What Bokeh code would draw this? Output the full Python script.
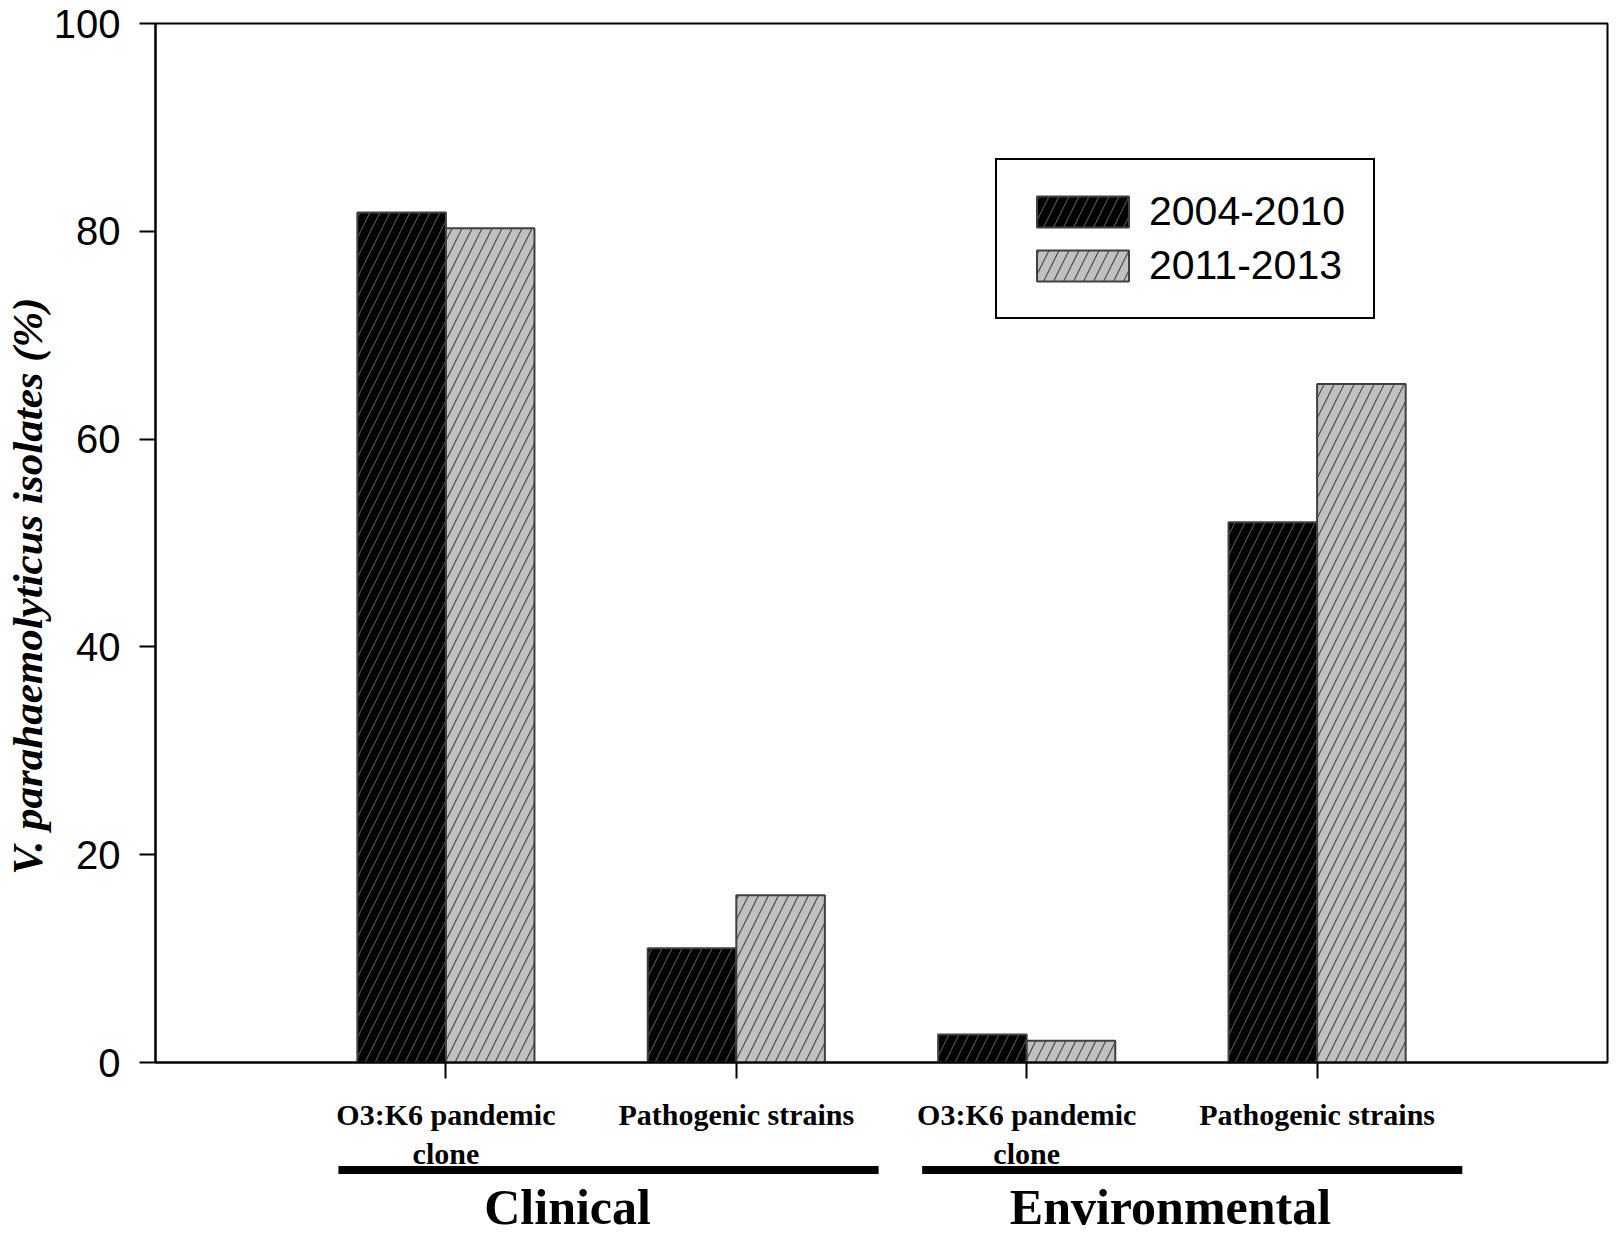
from bokeh.plotting import figure
from bokeh.layouts import column
from bokeh.models import Range1d, FixedTicker, Legend, LegendItem, ColumnDataSource
from bokeh.core.properties import value
from bokeh.embed import file_html
from bokeh.resources import INLINE

categories = ["O3:K6 pandemic\nclone", "Pathogenic strains", "O3:K6 pandemic\nclone", "Pathogenic strains"]
cat_pos = [1, 2, 3, 4]
groups = ["Clinical", "Environmental"]
group_centers = [1.419, 3.495]
group_starts = [0.63, 2.64]
group_ends = [2.49, 4.50]
series_names = ["2004-2010", "2011-2013"]
values_2004_2010 = [81.8, 11.0, 2.7, 52.0]
values_2011_2013 = [80.3, 16.1, 2.1, 65.3]
y_ticks = [0, 20, 40, 60, 80, 100]

bar_w = 0.305
xr = Range1d(0, 5)

p = figure(frame_width=1452, frame_height=1039, x_range=xr, y_range=Range1d(0, 100),
           output_backend="svg", toolbar_location=None,
           min_border_left=154, min_border_top=23, min_border_right=9, min_border_bottom=112)
p.grid.visible = False
p.background_fill_color = "white"
p.border_fill_color = "white"
p.outline_line_color = "black"
p.outline_line_width = 2

src1 = ColumnDataSource(dict(x=[c - bar_w / 2 for c in cat_pos], top=values_2004_2010))
src2 = ColumnDataSource(dict(x=[c + bar_w / 2 for c in cat_pos], top=values_2011_2013))

r1 = p.vbar(x="x", top="top", width=bar_w, bottom=0, source=src1,
            fill_color="black", line_color="#404040", line_width=2,
            hatch_pattern="/", hatch_color="#505050", hatch_scale=20, hatch_weight=1.2)
r2 = p.vbar(x="x", top="top", width=bar_w, bottom=0, source=src2,
            fill_color="#c0c0c0", line_color="#404040", line_width=2,
            hatch_pattern="/", hatch_color="#4a4a4a", hatch_scale=20, hatch_weight=1.2)

legend = Legend(items=[LegendItem(label=series_names[0], renderers=[r1]),
                       LegendItem(label=series_names[1], renderers=[r2])],
                location=(840, 743), border_line_color="black", border_line_width=2,
                border_line_alpha=1, background_fill_alpha=1, padding=28, margin=0,
                spacing=7, glyph_width=115, glyph_height=39, label_standoff=9,
                label_text_font="Liberation Sans", label_text_font_size="41px",
                label_text_color="black", label_height=39)
p.add_layout(legend)

# y axis
yax = p.yaxis[0]
yax.ticker = FixedTicker(ticks=y_ticks)
yax.minor_tick_line_color = None
yax.major_tick_in = 0
yax.major_tick_out = 16
yax.major_tick_line_width = 2
yax.axis_line_width = 2
yax.major_label_text_font = "Liberation Sans"
yax.major_label_text_font_size = "40px"
yax.major_label_text_color = "black"
yax.major_label_standoff = 19
yax.axis_label = "V. parahaemolyticus isolates (%)" + "\u00a0" * 8
yax.axis_label_text_font = "Liberation Serif"
yax.axis_label_text_font_style = "bold italic"
yax.axis_label_text_font_size = "43px"
yax.axis_label_text_color = "black"
yax.axis_label_standoff = 0

# x axis
xax = p.xaxis[0]
xax.ticker = FixedTicker(ticks=cat_pos)
xax.major_label_overrides = {c: t for c, t in zip(cat_pos, categories)}
xax.minor_tick_line_color = None
xax.major_tick_in = 0
xax.major_tick_out = 16
xax.major_tick_line_width = 2
xax.axis_line_width = 2
xax.major_label_text_font = "Liberation Serif"
xax.major_label_text_font_style = "bold"
xax.major_label_text_font_size = "30px"
xax.major_label_text_color = "black"
xax.major_label_standoff = 19

# group underlines and group labels, in a transparent strip sharing the x range
p2 = figure(frame_width=1452, frame_height=79, x_range=xr, y_range=Range1d(0, 79),
            output_backend="svg", toolbar_location=None,
            x_axis_location=None, y_axis_location=None,
            min_border_left=154, min_border_right=9, min_border_top=0, min_border_bottom=0)
p2.grid.visible = False
p2.outline_line_color = None
p2.background_fill_alpha = 0
p2.border_fill_alpha = 0
p2.margin = (-16, 0, 0, 0)

gsrc = ColumnDataSource(dict(x0=group_starts, x1=group_ends, xc=group_centers, name=groups,
                             yl=[67.5] * 2, yt=[31] * 2))
p2.segment(x0="x0", y0="yl", x1="x1", y1="yl", source=gsrc, line_color="black", line_width=8)
p2.text(x="xc", y="yt", text="name", source=gsrc, text_align="center",
        text_baseline="middle", text_font=value("Liberation Serif"),
        text_font_style="bold", text_font_size="50px", text_color="black")

layout = column(p, p2, spacing=0)
open("out.html", "w").write(file_html(layout, INLINE))
